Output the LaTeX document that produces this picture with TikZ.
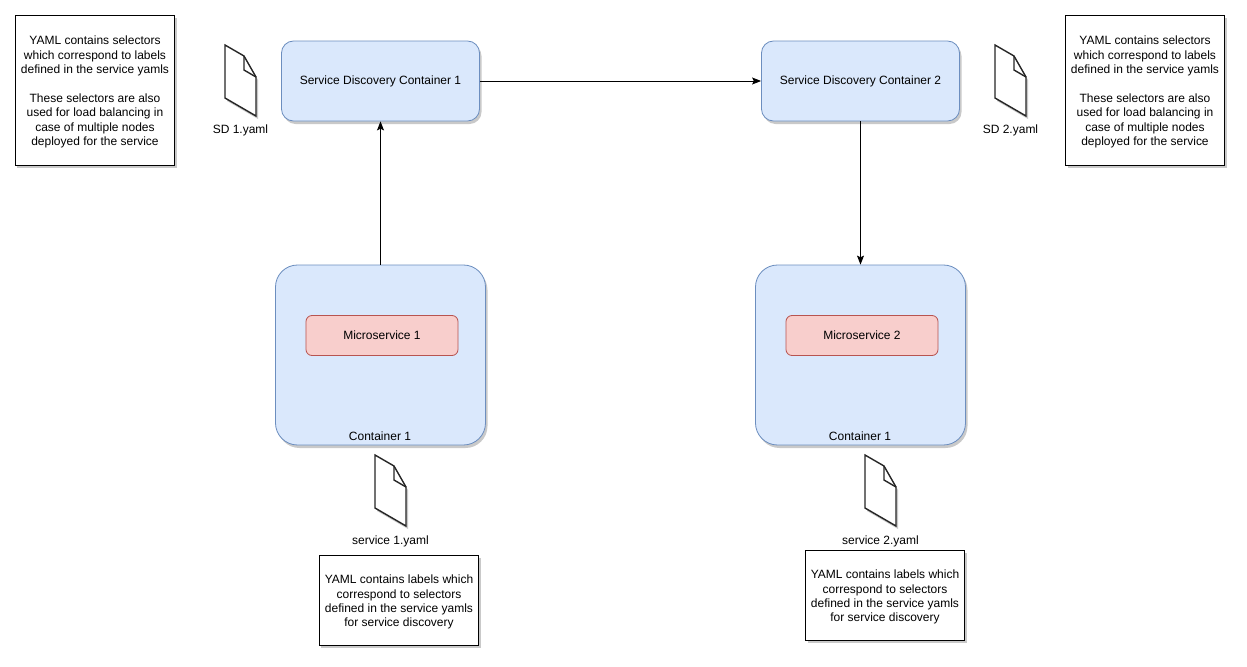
\documentclass[tikz,border=0pt]{standalone}
\usepackage{fontspec}
\setmainfont{Liberation Sans}
\usepackage{xcolor}
\usepackage{tikz}
\usetikzlibrary{arrows.meta,positioning,shadows}
\definecolor{contfill}{HTML}{DAE8FC}
\definecolor{contline}{HTML}{6C8EBF}
\definecolor{msfill}{HTML}{F8CECC}
\definecolor{msline}{HTML}{B85450}
\newcommand{\notegap}{\rule{0pt}{11pt}}

\begin{document}
\begin{tikzpicture}[
		x=0.03cm, y=-0.03cm,
		softshadow/.style={drop shadow={shadow xshift=0.06cm, shadow yshift=-0.09cm, opacity=0.3, fill=black!70}},
		txt/.style={font=\fontsize{10.24}{12.25}\selectfont, align=center, inner sep=0pt},
		sdbox/.style={txt, rounded corners=0.36cm, draw=contline, fill=contfill, line width=0.7pt, minimum width=5.94cm, minimum height=2.4cm, softshadow},
		contbox/.style={txt, rounded corners=0.66cm, draw=contline, fill=contfill, line width=0.7pt, minimum width=6.3cm, minimum height=5.4cm, softshadow},
		msbox/.style={txt, rounded corners=0.18cm, draw=msline, fill=msfill, line width=0.7pt, minimum width=4.56cm, minimum height=1.2cm},
		notebox/.style={txt, draw=black, fill=white, line width=0.8pt, minimum width=4.77cm, softshadow},
		link/.style={-{Stealth[length=2.7mm, width=2.1mm, inset=0.5mm]}, line width=0.8pt, black},
		yamlfile/.pic={
			\draw[fill=white, draw=black!85, line width=1.2pt, softshadow] (0,0) -- (19,11) -- (31,32) -- (31,71) -- (0,53) -- cycle;
			\draw[draw=black!85, line width=1.2pt] (19,11) -- (19,25) -- (31,32);
		}
		]
		\useasboundingbox (0,0) rectangle (1247,667);
		\node[sdbox] (sd1) at (380.5,81) {Service Discovery Container 1};
		\node[sdbox] (sd2) at (860.5,81) {Service Discovery Container 2};
		\node[contbox] (cont1) at (380.5,355) {};
		\node[contbox] (cont2) at (860.5,355) {};
		\node[msbox] (ms1) at (382,335.5) {Microservice 1};
		\node[msbox] (ms2) at (862,335.5) {Microservice 2};
		\node[txt] (contlabel1) at (380,436) {Container 1};
		\node[txt] (contlabel2) at (860,436) {Container 1};
		\pic at (225,45) {yamlfile};
		\pic at (995,45) {yamlfile};
		\pic at (375,455) {yamlfile};
		\pic at (865,455) {yamlfile};
		\node[txt] (sdfile1) at (240.5,130) {SD 1.yaml};
		\node[txt] (sdfile2) at (1010.5,130) {SD 2.yaml};
		\node[txt] (msfile1) at (390.5,541) {service 1.yaml};
		\node[txt] (msfile2) at (880.5,541) {service 2.yaml};
		\node[notebox, minimum height=4.5cm] (note1) at (95,90) {\notegap YAML contains selectors\\which correspond to labels\\defined in the service yamls\\[12.25pt]These selectors are also\\used for load balancing in\\case of multiple nodes\\deployed for the service};
		\node[notebox, minimum height=4.5cm] (note2) at (1145,90) {\notegap YAML contains selectors\\which correspond to labels\\defined in the service yamls\\[12.25pt]These selectors are also\\used for load balancing in\\case of multiple nodes\\deployed for the service};
		\node[notebox, minimum height=2.7cm] (note3) at (399,600) {\notegap YAML contains labels which\\correspond to selectors\\defined in the service yamls\\for service discovery};
		\node[notebox, minimum height=2.7cm] (note4) at (885,595) {\notegap YAML contains labels which\\correspond to selectors\\defined in the service yamls\\for service discovery};
		\draw[link] (sd1) -- (sd2);
		\draw[link] (cont1.north) -- (cont1.north |- sd1.south);
		\draw[link] (sd2.south) -- (sd2.south |- cont2.north);
\end{tikzpicture}
\end{document}
